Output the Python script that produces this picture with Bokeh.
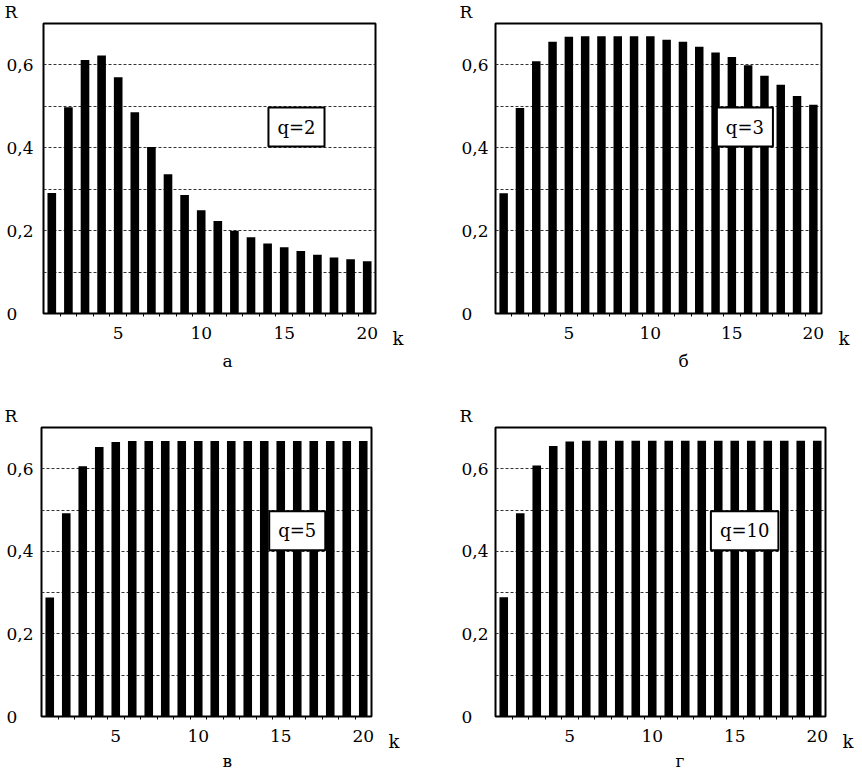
from bokeh.plotting import figure
from bokeh.layouts import column, row
from bokeh.models import Range1d, FixedTicker, Label, LinearAxis, Title
from bokeh.embed import file_html
from bokeh.resources import INLINE

# ---- data ----
k_values = list(range(1, 21))
r_q2 = [0.291, 0.498, 0.612, 0.623, 0.570, 0.486, 0.402, 0.336, 0.286, 0.249,
        0.223, 0.200, 0.184, 0.169, 0.160, 0.151, 0.142, 0.135, 0.131, 0.126]
r_q3 = [0.290, 0.496, 0.609, 0.656, 0.668, 0.669, 0.669, 0.669, 0.669, 0.669,
        0.661, 0.656, 0.644, 0.630, 0.619, 0.599, 0.574, 0.552, 0.525, 0.504]
r_q5 = [0.288, 0.492, 0.606, 0.653, 0.665, 0.667, 0.667, 0.667, 0.667, 0.667,
        0.667, 0.667, 0.667, 0.667, 0.667, 0.667, 0.667, 0.667, 0.667, 0.667]
r_q10 = [0.289, 0.492, 0.608, 0.655, 0.666, 0.668, 0.668, 0.668, 0.668, 0.668,
         0.668, 0.668, 0.668, 0.668, 0.668, 0.668, 0.668, 0.668, 0.668, 0.668]
q_labels = ["q=2", "q=3", "q=5", "q=10"]
captions = ["а", "б", "в", "г"]
x_tick_values = [5, 10, 15, 20]
y_tick_values = [0, 0.2, 0.4, 0.6, 0.7]
y_tick_labels = ["0\u00a0\u00a0\u00a0", "0,2", "0,4", "0,6", "R\u00a0\u00a0\u00a0\n\u00a0"]
grid_levels = [0.1, 0.2, 0.3, 0.4, 0.5, 0.6]
x_label = "k"
k_name_tick = 0

# ---- layout / style ----
FONT = "DejaVu Serif"
FS = "17px"
# (left, right, top, bottom) borders around each 290px-high frame
borders = [(43, 56, 23, 76), (64, 41, 23, 75), (41, 60, 37, 62), (64, 37, 38, 61)]
widths = [431, 431, 431, 431]
heights = [389, 389, 389, 389]
y_standoff = [10, 7, 8, 7]
q_pos_x = [15.74, 15.8, 16.0, 15.6]
caption_offset = [179, 183, 181, 180]
caption_standoff = [15, 14, 8, 8]
series = [r_q2, r_q3, r_q5, r_q10]


def make_panel(i):
    bl, br, bt, bb = borders[i]
    p = figure(width=widths[i], height=heights[i], x_range=Range1d(0.5, 20.5), y_range=Range1d(0, 0.7),
               output_backend="svg", toolbar_location=None,
               min_border_left=bl, min_border_right=br, min_border_top=bt, min_border_bottom=bb)
    p.background_fill_color = "white"
    p.border_fill_color = "white"
    p.outline_line_color = "black"
    p.outline_line_width = 2

    p.vbar(x=k_values, top=series[i], width=0.52, bottom=0,
           fill_color="black", line_color=None)

    p.xgrid.visible = False
    p.ygrid.ticker = FixedTicker(ticks=grid_levels)
    p.ygrid.grid_line_color = "#333333"
    p.ygrid.grid_line_dash = "3 2"
    p.ygrid.grid_line_width = 1

    xa = p.xaxis[0]
    xa.ticker = FixedTicker(ticks=x_tick_values, minor_ticks=[k + 0.5 for k in k_values[:-1]])
    xa.axis_line_color = None
    xa.major_tick_out = 0
    xa.major_tick_in = 0
    xa.minor_tick_out = 3
    xa.minor_tick_in = 0
    xa.minor_tick_line_color = "black"
    xa.major_label_text_font = FONT
    xa.major_label_text_font_size = FS
    xa.major_label_text_color = "black"
    xa.major_label_standoff = 10

    ya = p.yaxis[0]
    ya.ticker = FixedTicker(ticks=y_tick_values, minor_ticks=[])
    ya.major_label_overrides = dict(zip(y_tick_values, y_tick_labels))
    ya.axis_line_color = None
    ya.major_tick_out = 0
    ya.major_tick_in = 0
    ya.minor_tick_out = 0
    ya.minor_tick_in = 0
    ya.major_label_text_font = FONT
    ya.major_label_text_font_size = FS
    ya.major_label_text_color = "black"
    ya.major_label_standoff = y_standoff[i]

    ka = LinearAxis(ticker=FixedTicker(ticks=[k_name_tick], minor_ticks=[]),
                    major_label_overrides={k_name_tick: "\u00a0\n\u00a0\n" + x_label})
    ka.axis_line_color = None
    ka.major_tick_out = 0
    ka.major_tick_in = 0
    ka.minor_tick_out = 0
    ka.minor_tick_in = 0
    ka.major_label_standoff = 17
    ka.major_label_text_font = FONT
    ka.major_label_text_font_size = "18px"
    ka.major_label_text_color = "black"
    p.add_layout(ka, "right")

    cap = Title(text=captions[i], align="left", offset=caption_offset[i],
                standoff=caption_standoff[i], text_font=FONT, text_font_size=FS,
                text_font_style="normal", text_color="black")
    p.add_layout(cap, "below")

    p.add_layout(Label(x=q_pos_x[i], y=0.45, text=q_labels[i],
                       text_align="center", text_baseline="middle",
                       text_font=FONT, text_color="black", text_font_size="18px",
                       background_fill_color="white", border_line_color="black",
                       border_line_width=2, padding=9))
    return p


panels = [make_panel(i) for i in range(4)]
layout = column(row(panels[0], panels[1]), row(panels[2], panels[3]))

open("out.html", "w").write(file_html(layout, INLINE))
